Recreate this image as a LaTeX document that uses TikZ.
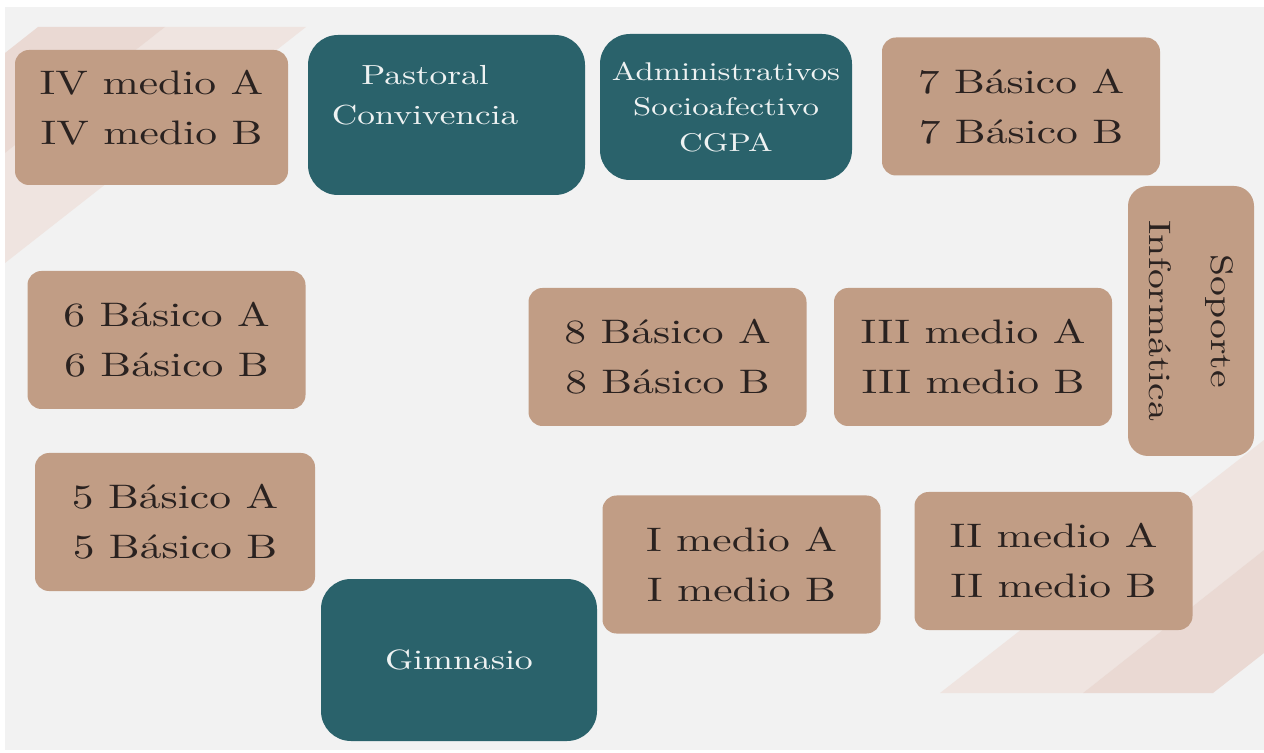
\documentclass[tikz,border=0pt]{standalone}
\usepackage{fontspec}
\newfontfamily\widefont{lmroman10-regular.otf}[FakeStretch=1.28]
\definecolor{pagegray}{HTML}{F2F2F2}
\definecolor{stripelight}{HTML}{EFE4E0}
\definecolor{stripedark}{HTML}{EAD9D3}
\definecolor{tanfill}{HTML}{C19D85}
\definecolor{tanink}{HTML}{2A2220}
\definecolor{tealfill}{HTML}{2A626B}
\definecolor{tealink}{HTML}{EEF2F2}
\newcommand{\widetype}[2]{\widefont\fontsize{#1}{#2}\selectfont}
\tikzset{
  tanbox/.style={fill=tanfill, text=tanink, rounded corners=7pt, minimum width=139pt, minimum height=69pt,
    font=\widetype{17}{25}},
  tealbox/.style={fill=tealfill, text=tealink, rounded corners=15pt, font=\widetype{14}{20}}
}

\begin{document}
\begin{tikzpicture}[x=0.5pt, y=-0.5pt, every node/.append style={align=center, inner sep=0pt}]
  \useasboundingbox[fill=white] (0,0) rectangle (1264,753);
  \fill[pagegray] (5,7) rectangle (1264,750);
  \fill[stripelight] (165,27) -- (306,27) -- (5,263) -- (5,153) -- cycle;
  \fill[stripedark] (38,27) -- (165,27) -- (5,153) -- (5,53) -- cycle;
  \fill[stripelight] (940,693) -- (1083,693) -- (1264,550) -- (1264,440) -- cycle;
  \fill[stripedark] (1083,693) -- (1213,693) -- (1264,653) -- (1264,550) -- cycle;
  \node[tanbox, minimum width=136.5pt, minimum height=67.5pt, text depth=10pt] (ivmedio) at (151.5,117.5) {IV medio A\\IV medio B};
  \node[tealbox, minimum width=138.5pt, minimum height=80pt] (pastoral) at (446.5,115) {};
  \node[tealbox, fill=none, rounded corners=0pt, font=\widetype{13.8}{20}] (pastoraltxt) at (425,95) {Pastoral\\Convivencia};
  \node[tealbox, minimum width=126pt, minimum height=73pt, font=\widetype{12.8}{17.75}] (admin) at (726,107) {Administrativos\\Socioafectivo\\CGPA};
  \node[tanbox] (septimo) at (1021,106.5) {7 Básico A\\7 Básico B};
  \node[tanbox, rotate=-90, minimum width=135pt, minimum height=63pt, rounded corners=10pt,
    font=\widetype{15.5}{31}] (soporte) at (1191,321) {Soporte\\Informática};
  \node[tanbox] (sexto) at (166.5,340) {6 Básico A\\6 Básico B};
  \node[tanbox] (octavo) at (667.5,357) {8 Básico A\\8 Básico B};
  \node[tanbox] (tercero) at (973,357) {III medio A\\III medio B};
  \node[tanbox, minimum width=140pt] (quinto) at (175,522) {5 Básico A\\5 Básico B};
  \node[tanbox] (primero) at (741.5,564.5) {I medio A\\I medio B};
  \node[tanbox] (segundo) at (1053.5,561) {II medio A\\II medio B};
  \node[tealbox, minimum width=138pt, minimum height=81pt] (gimnasio) at (459,660) {Gimnasio};
\end{tikzpicture}
\end{document}
